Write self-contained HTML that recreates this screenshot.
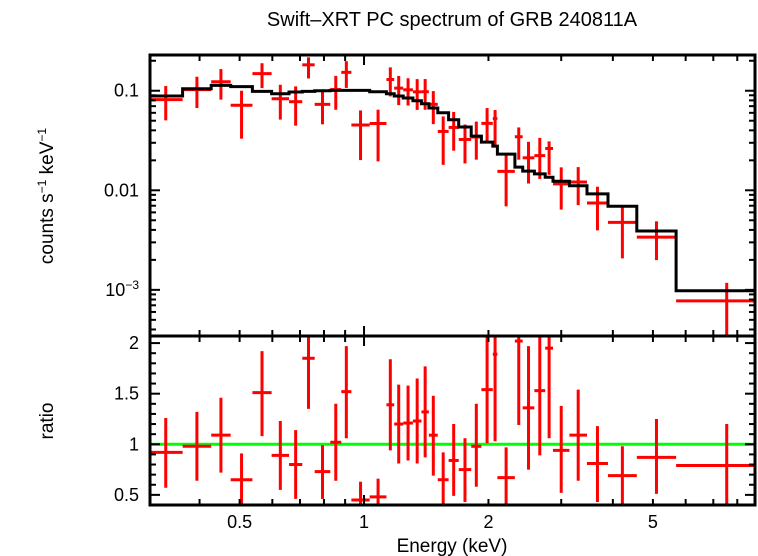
<!DOCTYPE html>
<html><head><meta charset="utf-8"><style>
html,body{margin:0;padding:0;background:#fff;}
svg{display:block;font-family:"Liberation Sans",sans-serif;}
</style></head><body>
<svg id="chart" width="758" height="556" viewBox="0 0 758 556" xmlns="http://www.w3.org/2000/svg">
<defs>
<clipPath id="clipTop"><rect x="150" y="55" width="605" height="281"/></clipPath>
<clipPath id="clipBot"><rect x="150" y="336" width="605" height="169"/></clipPath>
</defs>
<text x="452" y="26" font-size="20" text-anchor="middle">Swift–XRT PC spectrum of GRB 240811A</text>
<text x="452" y="552" font-size="19" text-anchor="middle">Energy (keV)</text>
<text transform="translate(53,196) rotate(-90)" font-size="19" text-anchor="middle">counts s<tspan font-size="12" dy="-7">−1</tspan><tspan dy="7"> keV</tspan><tspan font-size="12" dy="-7">−1</tspan></text>
<text transform="translate(53,421) rotate(-90)" font-size="19" text-anchor="middle">ratio</text>
<g id="topPlot"></g>
<g id="botPlot"></g>
<g id="axes"></g>
</svg>
<script>
const binEdges = [0.3016,0.364,0.4268,0.4757,0.537,0.5976,0.6585,0.709,0.7597,0.8286,0.881,0.932,1.032,1.133,1.183,1.244,1.313,1.377,1.435,1.508,1.602,1.695,1.817,1.923,2.049,2.102,2.317,2.42,2.583,2.744,2.866,3.14,3.463,3.892,4.571,5.69,10];
const modelVals = [0.0885,0.1047,0.113,0.110,0.0984,0.0933,0.097,0.0984,0.1,0.1007,0.1007,0.1007,0.0977,0.0933,0.0885,0.0845,0.0793,0.074,0.067,0.060,0.051,0.0432,0.035,0.0305,0.0278,0.0231,0.0171,0.0156,0.0146,0.0135,0.0123,0.0111,0.0092,0.0069,0.0039,0.00098];
const fluxVals = [0.0814,0.1026,0.1232,0.0715,0.1486,0.083,0.0776,0.182,0.073,0.1027,0.153,0.0453,0.0469,0.1297,0.1062,0.1022,0.0975,0.0977,0.073,0.039,0.0428,0.0324,0.0343,0.047,0.0525,0.0155,0.0345,0.0212,0.0223,0.0263,0.0116,0.0121,0.00745,0.00476,0.00339,0.000774];
const fluxHi = [0.1115,0.1382,0.165,0.100,0.189,0.1148,0.1106,0.2165,0.099,0.141,0.198,0.0634,0.0645,0.1717,0.1407,0.1335,0.1308,0.131,0.0992,0.0552,0.0612,0.0458,0.049,0.067,0.064,0.0224,0.0428,0.0307,0.0336,0.031,0.017,0.0171,0.01086,0.00676,0.00488,0.001176];
const fluxLo = [0.0504,0.067,0.0814,0.033,0.1063,0.0513,0.0446,0.1328,0.046,0.0644,0.1067,0.0201,0.0195,0.0877,0.0717,0.071,0.0642,0.0644,0.0462,0.018,0.025,0.0186,0.0203,0.0308,0.0286,0.0069,0.0203,0.0117,0.013,0.0143,0.0064,0.0071,0.00396,0.00207,0.00199,0.000294];
const ratioVals = [0.92,0.98,1.09,0.65,1.51,0.89,0.80,1.85,0.73,1.02,1.52,0.45,0.48,1.39,1.20,1.21,1.23,1.32,1.09,0.65,0.84,0.75,0.98,1.54,1.89,0.67,2.02,1.36,1.53,1.95,0.94,1.09,0.81,0.69,0.87,0.79];
const ratioHi = [1.26,1.32,1.46,0.91,1.92,1.23,1.14,2.2,0.99,1.40,1.97,0.63,0.66,1.84,1.59,1.58,1.65,1.77,1.48,0.92,1.20,1.06,1.40,2.2,2.3,0.97,2.5,1.97,2.3,2.3,1.38,1.54,1.18,0.98,1.25,1.20];
const ratioLo = [0.57,0.64,0.72,0.30,1.08,0.55,0.46,1.35,0.46,0.64,1.06,0.2,0.2,0.94,0.81,0.84,0.81,0.87,0.69,0.3,0.49,0.43,0.58,1.01,1.03,0.3,1.19,0.75,0.89,1.06,0.52,0.64,0.43,0.3,0.51,0.3];
const xTickLabels = ["0.5","1","2","5"];
const xTickValues = [0.5,1,2,5];
const yTopLabelValues = [0.1,0.01,0.001];
const yBotLabels = ["0.5","1","1.5","2"];
const yBotValues = [0.5,1,1.5,2];

const NS = "http://www.w3.org/2000/svg";
const X0=150, X1=755, YT0=55, YT1=336, YB0=336, YB1=505;
const xLogMin=Math.log10(0.3035), xLogMax=Math.log10(8.83);
function xs(e){return X0+(Math.log10(e)-xLogMin)/(xLogMax-xLogMin)*(X1-X0);}
const yLogMax=Math.log10(0.2285), yLogMin=Math.log10(0.000344);
function yt(v){return YT0+(yLogMax-Math.log10(v))/(yLogMax-yLogMin)*(YT1-YT0);}
const rMax=2.07, rMin=0.4;
function yb(r){return YB0+(rMax-r)/(rMax-rMin)*(YB1-YB0);}

function mk(tag, attrs, parent){const el=document.createElementNS(NS,tag);for(const k in attrs)el.setAttribute(k,attrs[k]);parent.appendChild(el);return el;}

const topG=document.getElementById('topPlot');
const botG=document.getElementById('botPlot');
const axesG=document.getElementById('axes');
const gTop=mk('g',{'clip-path':'url(#clipTop)'},topG);
const gBot=mk('g',{'clip-path':'url(#clipBot)'},botG);

const unity=mk('line',{x1:X0,x2:X1,y1:yb(1),y2:yb(1),stroke:'#00ff00','stroke-width':3},gBot);



for(let i=0;i<fluxVals.length;i++){
  const xa=xs(binEdges[i]), xb=xs(binEdges[i+1]);
  const xc=xs(Math.sqrt(binEdges[i]*binEdges[i+1]));
  const g=mk('g',{stroke:'#ff0000','stroke-width':3},gTop);
  
  
  mk('line',{x1:xa,x2:xb,y1:yt(fluxVals[i]),y2:yt(fluxVals[i])},g);
  mk('line',{x1:xc,x2:xc,y1:yt(fluxHi[i]),y2:yt(fluxLo[i])},g);
  const g2=mk('g',{stroke:'#ff0000','stroke-width':3},gBot);
  
  
  mk('line',{x1:xa,x2:xb,y1:yb(ratioVals[i]),y2:yb(ratioVals[i])},g2);
  mk('line',{x1:xc,x2:xc,y1:yb(ratioHi[i]),y2:yb(ratioLo[i])},g2);
}
let d='';
for(let i=0;i<modelVals.length;i++){
  const xa=xs(binEdges[i]), xb=xs(binEdges[i+1]), y=yt(modelVals[i]);
  d+=(i===0?'M':'L')+xa.toFixed(1)+','+y.toFixed(1)+' L'+xb.toFixed(1)+','+y.toFixed(1)+' ';
}
const model=mk('path',{d:d,fill:'none',stroke:'#000','stroke-width':3},gTop);



const f1=mk('rect',{x:X0,y:YT0,width:X1-X0,height:YT1-YT0,fill:'none',stroke:'#000','stroke-width':3},axesG);


const f2=mk('rect',{x:X0,y:YB0,width:X1-X0,height:YB1-YB0,fill:'none',stroke:'#000','stroke-width':3},axesG);



const xt=[];
for(const dec of [0.1,1]) for(let k=1;k<=9;k++){const e=k*dec;if(e>0.3035&&e<8.83)xt.push([e,k===1]);}
const tg=mk('g',{stroke:'#000','stroke-width':2},axesG);
for(const [e,maj] of xt){
  const x=xs(e), L=maj?10:6;
  for(const [ya,yb2] of [[YT0,YT1],[YB0,YB1]]){
    mk('line',{x1:x,x2:x,y1:ya,y2:ya+L},tg);
    mk('line',{x1:x,x2:x,y1:yb2,y2:yb2-L},tg);
  }
}
for(let i=0;i<xTickLabels.length;i++){
  const t=mk('text',{x:xs(xTickValues[i]),y:528,'font-size':18,'text-anchor':'middle'},axesG);
  
  
  t.textContent=xTickLabels[i];
}
for(const dec of [0.0001,0.001,0.01,0.1]) for(let k=1;k<=9;k++){
  const v=k*dec; if(v<0.000344||v>0.2285) continue;
  const y=yt(v), L=k===1?10:6;
  mk('line',{x1:X0,x2:X0+L,y1:y,y2:y},tg);
  mk('line',{x1:X1,x2:X1-L,y1:y,y2:y},tg);
}
const topLbl=[["0.1",null],["0.01",null],["10","−3"]];
for(let i=0;i<yTopLabelValues.length;i++){
  const t=mk('text',{x:139,y:yt(yTopLabelValues[i])+6,'font-size':18,'text-anchor':'end'},axesG);
  
  
  if(topLbl[i][1]){t.textContent=topLbl[i][0];const s=mk('tspan',{'font-size':12,dy:-7},t);s.textContent=topLbl[i][1];}
  else t.textContent=topLbl[i][0];
}
for(let j=4;j<=20;j++){
  const rr=j/10; const y=yb(rr); const L=(j%5===0)?10:6;
  mk('line',{x1:X0,x2:X0+L,y1:y,y2:y},tg);
  mk('line',{x1:X1,x2:X1-L,y1:y,y2:y},tg);
}
for(let i=0;i<yBotLabels.length;i++){
  const t=mk('text',{x:139,y:yb(yBotValues[i])+6,'font-size':18,'text-anchor':'end'},axesG);
  
  
  t.textContent=yBotLabels[i];
}
</script>
</body></html>
